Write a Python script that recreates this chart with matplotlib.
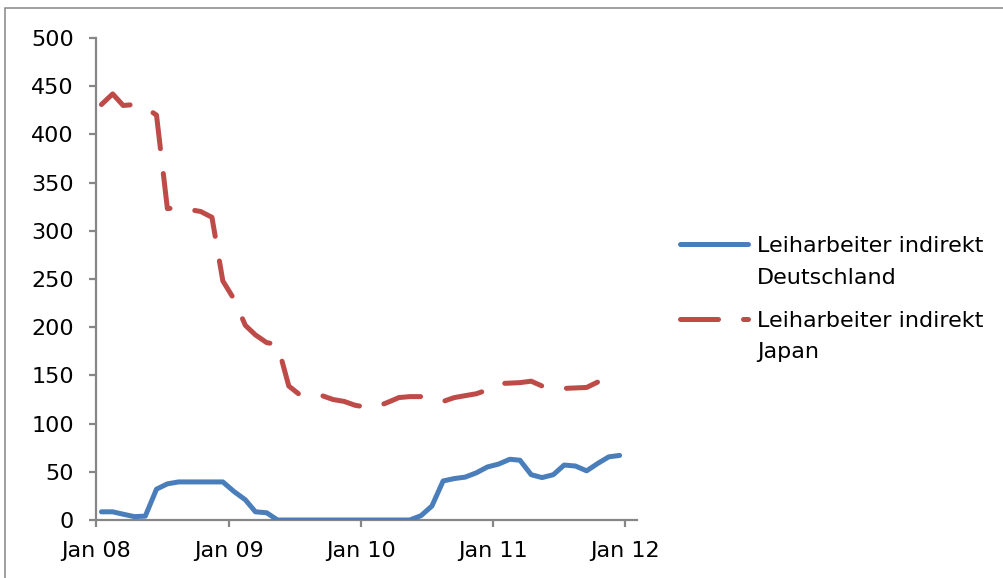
import numpy as np
import pandas as pd
import matplotlib
matplotlib.use("Agg")
import matplotlib.pyplot as plt
import matplotlib.dates as mdates
from matplotlib.lines import Line2D
from matplotlib.patches import Rectangle

# Monthly series, Jan 2008 onwards (points placed mid-month)
germany = [8.5, 8.5, 6, 3.5, 4, 32, 37.5, 39.5, 39.5, 39.5, 39.5, 39.5,
           29.5, 21, 8.5, 7.5, 0, 0, 0, 0, 0, 0, 0, 0,
           0, 0, 0, 0, 0, 4.5, 14.5, 40.5, 43, 44.5, 49, 55,
           58, 63, 62, 47, 44, 47, 57, 56, 51, 58.5, 65.5, 67]
japan = [431, 442, 430, 431, 428, 420, 323, 324, 322, 320, 314, 248,
         229, 202, 192, 184, 182, 139, 130, 130, 129, 125, 123, 119,
         117, 118, 122, 127, 128, 128, 126, 123, 127, 129, 131, 135,
         141.5, 142, 142.5, 144, 139, 136.5, 136.5, 137, 137.5, 143]
series_labels = ["Leiharbeiter indirekt\nDeutschland",
                 "Leiharbeiter indirekt\nJapan"]
tick_years = [2008, 2009, 2010, 2011, 2012]
y_ticks = list(range(0, 501, 50))

start = pd.Timestamp("2008-01-01")
dates_de = pd.date_range(start, periods=len(germany), freq="MS") + pd.Timedelta(days=15)
dates_jp = pd.date_range(start, periods=len(japan), freq="MS") + pd.Timedelta(days=15)

BLUE = "#4A7EBB"
RED = "#BE4B48"
GRAY = "#868686"
FONT = "DejaVu Sans"
FS = 16
LW = 3.6
DASH = (7.6, 5.0)

plt.rcParams["font.family"] = [FONT]

fig = plt.figure(figsize=(10.04, 5.78), dpi=100)
W, H = 1004, 578
ax = fig.add_axes([96 / W, 58 / H, (637 - 96) / W, (520 - 38) / H])

ax.plot(dates_de, germany, color=BLUE, lw=LW, solid_joinstyle="round",
        solid_capstyle="round", zorder=3)
ax.plot(dates_jp, japan, color=RED, lw=LW, linestyle=(0, DASH),
        dash_capstyle="round", dash_joinstyle="round", zorder=3)

ax.set_ylim(0, 500)
ax.set_yticks(y_ticks)
ax.set_xlim(pd.Timestamp("2008-01-01"), pd.Timestamp("2012-02-02"))
ax.set_xticks([pd.Timestamp(f"{y}-01-01") for y in tick_years])
ax.xaxis.set_major_formatter(mdates.DateFormatter("%b %y"))

for side in ("top", "right"):
    ax.spines[side].set_visible(False)
for side in ("left", "bottom"):
    ax.spines[side].set_color(GRAY)
    ax.spines[side].set_linewidth(1.6)
ax.tick_params(axis="both", direction="out", length=5, width=1.6, color=GRAY,
               labelsize=FS, labelcolor="black")
ax.tick_params(axis="y", pad=11)
ax.tick_params(axis="x", pad=10)

# Legend drawn beside the plot area, handle level with the first text line
def px(x, y):
    return x / W, 1 - y / H

entries = [(series_labels[0], BLUE, "-", 244, [252, 283.5]),
           (series_labels[1], RED, (0, DASH), 319, [327, 358])]
for label, color, ls, y_line, baselines in entries:
    (x0, yy), (x1, _) = px(680.5, y_line), px(748.5, y_line)
    fig.add_artist(Line2D([x0, x1], [yy, yy], color=color, lw=LW, linestyle=ls,
                          solid_capstyle="round", dash_capstyle="round",
                          transform=fig.transFigure))
    for line, base in zip(label.split("\n"), baselines):
        tx, ty = px(757, base)
        fig.text(tx, ty, line, fontsize=FS, va="baseline", ha="left", color="black")

# Outer chart frame
fx, fy = px(5, 8)
fig.add_artist(Rectangle((fx, -0.05), 1.2, fy + 0.05, transform=fig.transFigure,
                         fill=False, edgecolor=GRAY, lw=1.1))

fig.savefig("out.png", dpi=100)
